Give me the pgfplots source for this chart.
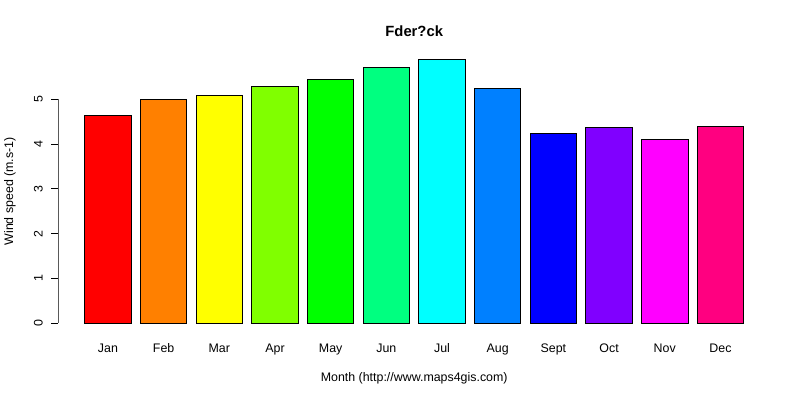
\documentclass[border=0pt]{standalone}
\usepackage{fontspec}
\setmainfont{Liberation Sans}
\usepackage{pgfplots}
\pgfplotsset{compat=1.18}

% R rainbow(12)
\definecolor{c1}{HTML}{FF0000}
\definecolor{c2}{HTML}{FF8000}
\definecolor{c3}{HTML}{FFFF00}
\definecolor{c4}{HTML}{80FF00}
\definecolor{c5}{HTML}{00FF00}
\definecolor{c6}{HTML}{00FF80}
\definecolor{c7}{HTML}{00FFFF}
\definecolor{c8}{HTML}{0080FF}
\definecolor{c9}{HTML}{0000FF}
\definecolor{c10}{HTML}{8000FF}
\definecolor{c11}{HTML}{FF00FF}
\definecolor{c12}{HTML}{FF0080}

\newcommand{\rfont}{\fontsize{12.4bp}{14bp}\selectfont}

\begin{document}
\begin{tikzpicture}
\useasboundingbox (0,0) rectangle (800bp,400bp);
\begin{axis}[
    at={(58.4bp,66.1bp)}, anchor=south west,
    scale only axis,
    width=711.6bp, height=285.2bp,
    xmin=-0.368, xmax=14.968,
    ymin=-0.236, ymax=6.13,
    axis line style={draw=none},
    xtick={0.7,1.9,3.1,4.3,5.5,6.7,7.9,9.1,10.3,11.5,12.7,13.9},
    xticklabels={Jan,Feb,Mar,Apr,May,Jun,Jul,Aug,Sept,Oct,Nov,Dec},
    xtick style={draw=none},
    xticklabel style={font=\rfont, anchor=center, yshift=-8.5bp,
        text height=9bp, text depth=2.5bp},
    ytick={0,1,2,3,4,5},
    ytick pos=left,
    tick align=outside,
    major tick length=7bp,
    ytick style={black, line width=0.9bp},
    yticklabel style={font=\rfont, rotate=90, anchor=center, yshift=13bp},
    /pgf/number format/assume math mode=true,
    title={\bfseries Fder?ck},
    title style={font=\fontsize{14.8bp}{16bp}\selectfont,
        at={(axis description cs:0.5,1)}, anchor=center, yshift=11.7bp},
    xlabel={Month (http://www.maps4gis.com)},
    xlabel style={font=\rfont, at={(axis description cs:0.5,0)},
        anchor=center, yshift=-44.5bp},
    ylabel={Wind speed (m.s-1)},
    ylabel style={font=\rfont, at={(axis description cs:0,0.5)},
        anchor=center, rotate=0, yshift=48.4bp},
    every axis plot/.append style={ybar, bar width=1, bar shift=0pt,
        draw=black, line width=0.9bp},
]
\addplot[fill=c1]  coordinates {(0.7,4.64)};
\addplot[fill=c2]  coordinates {(1.9,5.00)};
\addplot[fill=c3]  coordinates {(3.1,5.09)};
\addplot[fill=c4]  coordinates {(4.3,5.29)};
\addplot[fill=c5]  coordinates {(5.5,5.45)};
\addplot[fill=c6]  coordinates {(6.7,5.71)};
\addplot[fill=c7]  coordinates {(7.9,5.89)};
\addplot[fill=c8]  coordinates {(9.1,5.25)};
\addplot[fill=c9]  coordinates {(10.3,4.24)};
\addplot[fill=c10] coordinates {(11.5,4.38)};
\addplot[fill=c11] coordinates {(12.7,4.11)};
\addplot[fill=c12] coordinates {(13.9,4.40)};
\draw[black, line width=0.9bp] (axis cs:-0.368,0) -- (axis cs:-0.368,5);
\end{axis}
\end{tikzpicture}
\end{document}
